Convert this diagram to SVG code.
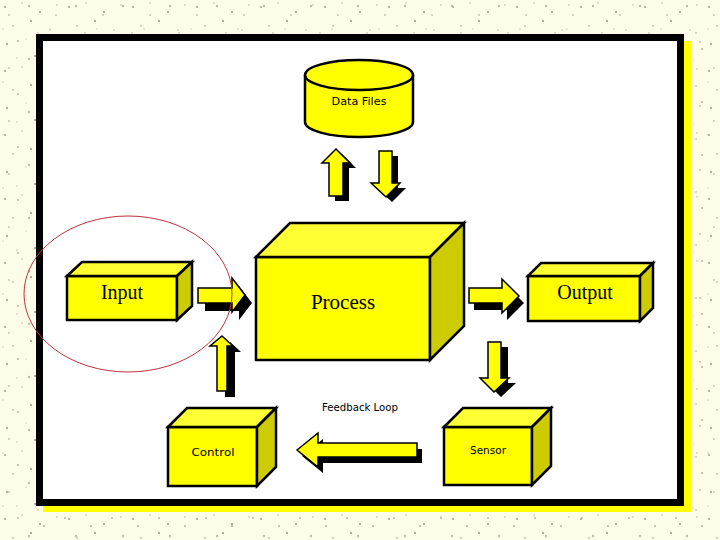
<svg xmlns="http://www.w3.org/2000/svg" width="720" height="540" viewBox="0 0 720 540">
<defs>
<pattern id="speck" width="64" height="64" patternUnits="userSpaceOnUse">
<circle cx="5" cy="7" r="0.9" fill="#9a9a88"/>
<circle cx="22" cy="3" r="0.7" fill="#b0b0a0"/>
<circle cx="40" cy="12" r="1" fill="#8f8f80"/>
<circle cx="57" cy="5" r="0.7" fill="#a8a898"/>
<circle cx="13" cy="26" r="0.8" fill="#a0a090"/>
<circle cx="31" cy="21" r="1.1" fill="#9a9a8a"/>
<circle cx="50" cy="30" r="0.7" fill="#b4b4a4"/>
<circle cx="7" cy="44" r="1" fill="#9c9c8c"/>
<circle cx="26" cy="39" r="0.6" fill="#b0b0a0"/>
<circle cx="44" cy="47" r="0.9" fill="#a0a090"/>
<circle cx="60" cy="42" r="0.8" fill="#969686"/>
<circle cx="17" cy="58" r="0.7" fill="#b0b0a0"/>
<circle cx="35" cy="56" r="1" fill="#9a9a8a"/>
<circle cx="53" cy="60" r="0.6" fill="#a8a898"/>
</pattern>
<pattern id="speck2" width="47" height="53" patternUnits="userSpaceOnUse">
<circle cx="9" cy="15" r="0.8" fill="#a4a494"/>
<circle cx="29" cy="6" r="1.2" fill="#bcbcac"/>
<circle cx="38" cy="33" r="0.7" fill="#999989"/>
<circle cx="18" cy="41" r="1" fill="#b8b8a8"/>
<circle cx="3" cy="29" r="0.6" fill="#a0a090"/>
<circle cx="44" cy="49" r="0.9" fill="#acac9c"/>
</pattern>
<style>
.face{fill:#ffff00;stroke:#000;stroke-width:2.5;stroke-linejoin:miter}
.top{fill:#ffff33;stroke:#000;stroke-width:2.5}
.side{fill:#cccc00;stroke:#000;stroke-width:2.5}
.arr{fill:#ffff00;stroke:#000;stroke-width:1.5}
.sh{fill:#000}
.big{font-family:"Liberation Serif","DejaVu Serif",serif;fill:#000;text-anchor:middle}
.small{font-family:"DejaVu Sans","Liberation Sans",sans-serif;fill:#000;text-anchor:middle;font-size:11px}
</style>
</defs>
<rect width="720" height="540" fill="#fcfce9"/>
<rect width="720" height="540" fill="url(#speck)"/>
<rect width="720" height="540" fill="url(#speck2)"/>
<rect x="43" y="41" width="648" height="471" fill="#ffff00"/>
<rect x="36" y="34" width="648" height="472" fill="#000"/>
<rect x="43" y="41" width="634" height="458" fill="#fff"/>

<g id="data-files">
<path class="face" d="M305,75 V122 A54,15 0 0 0 413,122 V75"/>
<ellipse class="face" cx="359" cy="75" rx="54" ry="15"/>
<text class="small" x="359" y="105" font-size="12" textLength="55" lengthAdjust="spacingAndGlyphs">Data Files</text>
</g>

<g id="input">
<rect class="face" x="67" y="276" width="110" height="44"/>
<polygon class="top" points="67,276 82,262 192,262 177,276"/>
<polygon class="side" points="177,276 192,262 192,306 177,320"/>
<text class="big" x="122" y="299" font-size="20">Input</text>
</g>

<g id="process">
<rect class="face" x="256" y="257" width="174" height="103"/>
<polygon class="top" points="256,257 290,223 464,223 430,257"/>
<polygon class="side" points="430,257 464,223 464,326 430,360"/>
<text class="big" x="343" y="309" font-size="21">Process</text>
</g>

<g id="output">
<rect class="face" x="528" y="276" width="112" height="45"/>
<polygon class="top" points="528,276 541,263 653,263 640,276"/>
<polygon class="side" points="640,276 653,263 653,308 640,321"/>
<text class="big" x="585" y="299" font-size="20">Output</text>
</g>

<g id="control">
<rect class="face" x="168" y="427" width="89" height="59"/>
<polygon class="top" points="168,427 187,408 276,408 257,427"/>
<polygon class="side" points="257,427 276,408 276,467 257,486"/>
<text class="small" x="213" y="456" font-size="13" textLength="43" lengthAdjust="spacingAndGlyphs">Control</text>
</g>

<g id="sensor">
<rect class="face" x="444" y="427" width="88" height="58"/>
<polygon class="top" points="444,427 463,408 551,408 532,427"/>
<polygon class="side" points="532,427 551,408 551,466 532,485"/>
<text class="small" x="488" y="454" font-size="12" textLength="36" lengthAdjust="spacingAndGlyphs">Sensor</text>
</g>

<g id="connectors">
<path class="sh" transform="translate(6,5)" d="M336,149 L350,163 L343,163 L343,196 L329,196 L329,163 L322,163 Z"/>
<path class="arr" d="M336,149 L350,163 L343,163 L343,196 L329,196 L329,163 L322,163 Z"/>
<path class="sh" transform="translate(6,5)" d="M379,151 L392,151 L392,183 L400,183 L386,197 L371,183 L379,183 Z"/>
<path class="arr" d="M379,151 L392,151 L392,183 L400,183 L386,197 L371,183 L379,183 Z"/>
<path class="sh" transform="translate(7,8)" d="M198,288 L232,288 L232,278 L245,295 L232,312 L232,303 L198,303 Z"/>
<path class="arr" d="M198,288 L232,288 L232,278 L245,295 L232,312 L232,303 L198,303 Z"/>
<path class="sh" transform="translate(8,6)" d="M222,336 L233,346 L227,346 L227,391 L217,391 L217,346 L210,346 Z"/>
<path class="arr" d="M222,336 L233,346 L227,346 L227,391 L217,391 L217,346 L210,346 Z"/>
<path class="sh" transform="translate(5,7)" d="M469,288 L502,288 L502,279 L519,296 L502,313 L502,303 L469,303 Z"/>
<path class="arr" d="M469,288 L502,288 L502,279 L519,296 L502,313 L502,303 L469,303 Z"/>
<path class="sh" transform="translate(7,5)" d="M488,342 L501,342 L501,378 L509,378 L494,392 L480,378 L488,378 Z"/>
<path class="arr" d="M488,342 L501,342 L501,378 L509,378 L494,392 L480,378 L488,378 Z"/>
<path class="sh" transform="translate(5,6)" d="M297,450 L318,433 L318,443 L417,443 L417,457 L318,457 L318,467 Z"/>
<path class="arr" d="M297,450 L318,433 L318,443 L417,443 L417,457 L318,457 L318,467 Z"/>
<text class="small" x="360" y="411" textLength="76" lengthAdjust="spacingAndGlyphs">Feedback Loop</text>
</g>

<ellipse cx="128" cy="294" rx="104" ry="78" fill="none" stroke="#c0303c" stroke-width="1"/>
</svg>
